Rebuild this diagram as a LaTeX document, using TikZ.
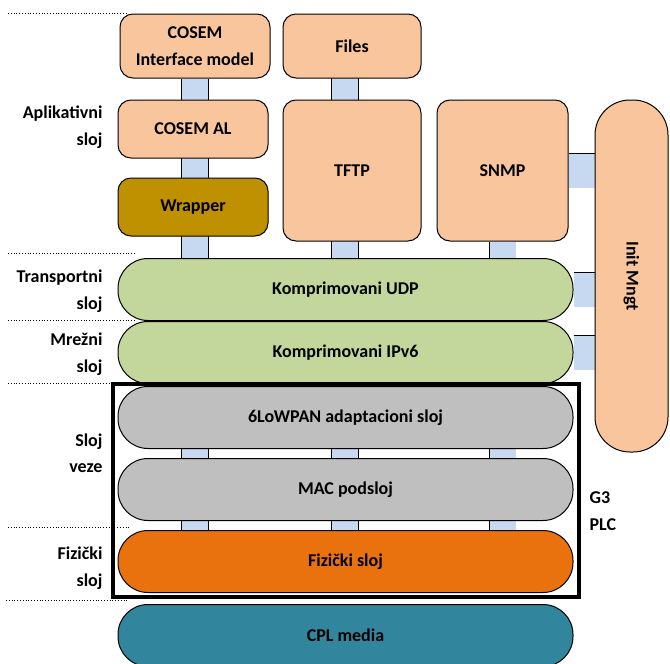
\documentclass[tikz,border=0pt]{standalone}
\usepackage{fontspec}
\setmainfont{Carlito}
\usetikzlibrary{backgrounds}
\definecolor{peach}{HTML}{F8C59D}
\definecolor{leaf}{HTML}{C3D69B}
\definecolor{stone}{HTML}{BFBFBF}
\definecolor{flame}{HTML}{E9710E}
\definecolor{sea}{HTML}{31859C}
\definecolor{gold}{HTML}{BF9000}
\definecolor{linkblue}{HTML}{C6D9F1}
\newcommand\labelfont{\bfseries\fontsize{18}{26.5}\selectfont}

\begin{document}
\begin{tikzpicture}[x=1pt,y=-1pt,
    box/.style={draw=black, line width=1pt, rounded corners=13pt, inner sep=0pt,
                font=\labelfont, align=center},
    pill/.style={box, rounded corners=30pt, minimum width=455pt, minimum height=62pt},
    link/.style={double=linkblue, double distance=26pt, line width=0.8pt},
    sidelink/.style={double=linkblue, double distance=34pt, line width=0.8pt},
    layer/.style={font=\labelfont, align=right, anchor=east},
    sep/.style={dotted, line width=0.8pt}]
    \useasboundingbox (0,0) rectangle (670,664);
    \node[box, fill=peach, minimum width=150pt, minimum height=64pt] (cim) at (195,46) {COSEM\\Interface model};
    \node[box, fill=peach, minimum width=138pt, minimum height=64pt] (files) at (352,46) {Files};
    \node[box, fill=peach, minimum width=150pt, minimum height=58pt] (cal) at (193,129) {COSEM AL};
    \node[box, fill=gold, minimum width=150pt, minimum height=58pt] (wrapper) at (193,207) {Wrapper};
    \node[box, fill=peach, minimum width=138pt, minimum height=141pt] (tftp) at (352,170.5) {TFTP};
    \node[box, fill=peach, minimum width=131pt, minimum height=141pt] (snmp) at (502.5,170.5) {SNMP};
    \node[box, fill=peach, rounded corners=35pt, minimum width=73pt, minimum height=352pt] (init) at (631.5,276) {};
    \node[font=\labelfont, rotate=-90] (initlbl) at (init.center) {Init Mngt};
    \node[pill, fill=leaf] (udp) at (345.5,289.5) {Komprimovani UDP};
    \node[pill, fill=leaf] (ipv6) at (345.5,352.5) {Komprimovani IPv6};
    \node[pill, fill=stone] (lowpan) at (345.5,417.5) {6LoWPAN adaptacioni sloj};
    \node[pill, fill=stone] (mac) at (345.5,489.5) {MAC podsloj};
    \node[pill, fill=flame] (fiz) at (345.5,561.5) {Fizički sloj};
    \node[pill, fill=sea] (cpl) at (345.5,635.5) {CPL media};
    \node[draw=black, line width=3.2pt, minimum width=466pt, minimum height=213pt] (g3) at (346,490.5) {};
    \node[font=\labelfont, align=left, anchor=west] (g3lbl) at (586,511) {G3\\PLC};
    \node[layer] (app) at (106,127) {Aplikativni\\sloj};
    \node[layer] (trans) at (106,291) {Transportni\\sloj};
    \node[layer] (net) at (106,354) {Mrežni\\sloj};
    \node[layer] (link) at (106,453) {Sloj\\veze};
    \node[layer] (phy) at (106,568) {Fizički\\sloj};
    \draw[sep] (8,13) -- (128,13);
    \draw[sep] (8,253) -- (135,253);
    \draw[sep] (8,320) -- (135,320);
    \draw[sep] (8,383) -- (135,383);
    \draw[sep] (8,527) -- (130,527);
    \draw[sep] (6,600) -- (128,600);
    \begin{scope}[on background layer]
        \draw[link] (cim) -- (cim |- fiz);
        \draw[link] ([xshift=-7pt]files.center) -- ([xshift=-7pt]files.center |- fiz);
        \draw[link] (snmp) -- (snmp |- fiz);
        \draw[sidelink] (snmp) -- (snmp -| init);
        \draw[sidelink] (udp) -- (udp -| init);
        \draw[sidelink] (ipv6) -- (ipv6 -| init);
    \end{scope}
\end{tikzpicture}
\end{document}
